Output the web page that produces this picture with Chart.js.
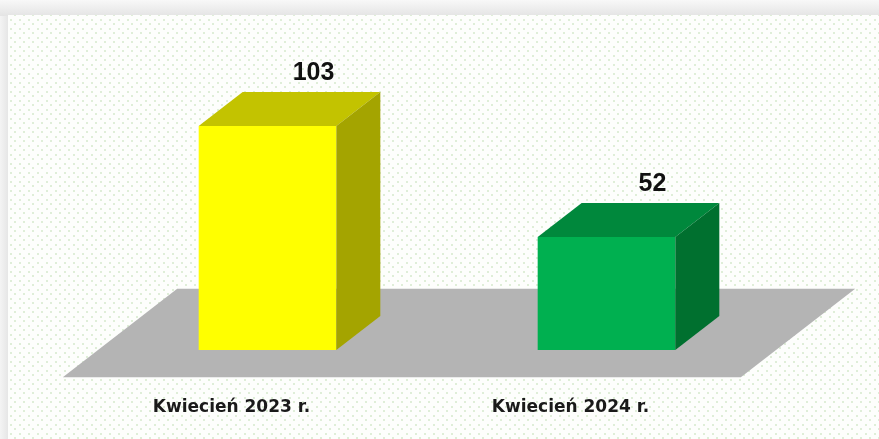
<!DOCTYPE html>
<html>
<head>
<meta charset="utf-8">
<script src="https://cdn.jsdelivr.net/npm/chart.js@4"></script>
<style>
  html, body { margin: 0; padding: 0; background: #f2f2f2; }
  #wrap { width: 879px; height: 439px; position: relative; }
</style>
</head>
<body>
<div id="wrap"><canvas id="c"></canvas></div>
<script>
// ---- data ----
const categories = ['Kwiecień 2023 r.', 'Kwiecień 2024 r.'];
const values = [103, 52];
const frontColors = ['#ffff00', '#00b050'];
const topColors = ['#c3c300', '#00883c'];
const sideColors = ['#a4a400', '#00702f'];
const floorColor = '#b4b4b4';

const DEPTH_X = 44, DEPTH_Y = 34;

function makePattern(ctx) {
  const p = document.createElement('canvas');
  p.width = 9; p.height = 9;
  const g = p.getContext('2d');
  g.fillStyle = '#fdfefc';
  g.fillRect(0, 0, 9, 9);
  g.fillStyle = '#dfeed8';
  g.fillRect(1, 1, 2, 2);
  g.fillRect(5, 5, 2, 2);
  return ctx.createPattern(p, 'repeat');
}

const bgPlugin = {
  id: 'bg',
  beforeDraw(chart) {
    const ctx = chart.ctx, W = chart.width, H = chart.height;
    ctx.save();
    const grad = ctx.createLinearGradient(0, 0, 0, 16);
    grad.addColorStop(0, '#f8f8f8');
    grad.addColorStop(1, '#e4e4e4');
    ctx.fillStyle = grad;
    ctx.fillRect(0, 0, W, H);
    const lg = ctx.createLinearGradient(0, 0, 8, 0);
    lg.addColorStop(0, '#f4f4f4');
    lg.addColorStop(1, '#e6e6e6');
    ctx.fillStyle = lg;
    ctx.fillRect(0, 16, 8, H);
    ctx.fillStyle = makePattern(ctx);
    ctx.fillRect(8, 15, W - 8, H - 15);
    ctx.restore();
  },
  beforeDatasetsDraw(chart) {
    const ctx = chart.ctx;
    const xs = chart.scales.x, ys = chart.scales.y;
    const base = ys.getPixelForValue(0);
    const fx0 = xs.left - 0.8 * DEPTH_X, fx1 = xs.right - 0.8 * DEPTH_X, fy = base + 0.8 * DEPTH_Y;
    const bx0 = xs.left + 1.8 * DEPTH_X, bx1 = xs.right + 1.8 * DEPTH_X, by = base - 1.8 * DEPTH_Y;
    ctx.save();
    ctx.fillStyle = floorColor;
    ctx.beginPath();
    ctx.moveTo(fx0, fy); ctx.lineTo(fx1, fy); ctx.lineTo(bx1, by); ctx.lineTo(bx0, by);
    ctx.closePath();
    ctx.fill();
    ctx.restore();
  },
  afterDatasetsDraw(chart) {
    const ctx = chart.ctx;
    const meta = chart.getDatasetMeta(0);
    ctx.save();
    meta.data.forEach((bar, i) => {
      const p = bar.getProps(['x', 'y', 'base', 'width'], true);
      const l = p.x - p.width / 2, r = p.x + p.width / 2, t = p.y, b = p.base;
      // top face
      ctx.fillStyle = topColors[i];
      ctx.beginPath();
      ctx.moveTo(l, t); ctx.lineTo(r, t); ctx.lineTo(r + DEPTH_X, t - DEPTH_Y); ctx.lineTo(l + DEPTH_X, t - DEPTH_Y);
      ctx.closePath(); ctx.fill();
      // side face
      ctx.fillStyle = sideColors[i];
      ctx.beginPath();
      ctx.moveTo(r, t); ctx.lineTo(r + DEPTH_X, t - DEPTH_Y); ctx.lineTo(r + DEPTH_X, b - DEPTH_Y); ctx.lineTo(r, b);
      ctx.closePath(); ctx.fill();
      // value label
      ctx.fillStyle = '#111111';
      ctx.font = 'bold 25px "Liberation Sans", Arial, sans-serif';
      ctx.textAlign = 'center';
      ctx.textBaseline = 'alphabetic';
      ctx.fillText(String(values[i]), p.x + DEPTH_X + 2, t - DEPTH_Y - 12);
      // category label
      ctx.fillStyle = '#1a1a1a';
      ctx.font = 'bold 17px "DejaVu Sans", sans-serif';
      ctx.fillText(categories[i], p.x - 36, b + 62);
    });
    ctx.restore();
  }
};

new Chart(document.getElementById('c'), {
  type: 'bar',
  data: {
    labels: categories,
    datasets: [{
      data: values,
      backgroundColor: frontColors,
      borderWidth: 0,
      barPercentage: 0.406,
      categoryPercentage: 1.0
    }]
  },
  options: {
    responsive: true,
    maintainAspectRatio: false,
    animation: false,
    layout: { padding: { left: 98, right: 103, top: 89, bottom: 89 } },
    plugins: { legend: { display: false }, tooltip: { enabled: false } },
    scales: {
      x: { display: false },
      y: { display: false, min: 0, max: 120 }
    }
  },
  plugins: [bgPlugin]
});
</script>
</body>
</html>
